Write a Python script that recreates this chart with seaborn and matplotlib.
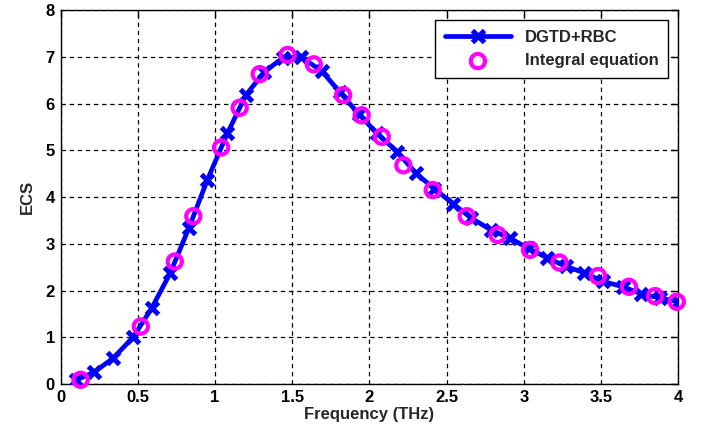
import matplotlib
matplotlib.use("Agg")
import matplotlib.pyplot as plt
import seaborn as sns
import pandas as pd

# DGTD+RBC series
dgtd_freq = [0.10, 0.22, 0.34, 0.47, 0.59, 0.71, 0.83, 0.95, 1.08, 1.20, 1.32,
             1.44, 1.56, 1.69, 1.81, 1.93, 2.05, 2.18, 2.30, 2.42, 2.54, 2.66,
             2.79, 2.91, 3.03, 3.15, 3.27, 3.39, 3.51, 3.64, 3.76, 3.88, 4.00]
dgtd_ecs = [0.08, 0.26, 0.55, 1.00, 1.62, 2.37, 3.33, 4.36, 5.36, 6.18, 6.68,
            6.98, 6.99, 6.70, 6.24, 5.78, 5.36, 4.97, 4.51, 4.18, 3.86, 3.55,
            3.29, 3.12, 2.90, 2.70, 2.52, 2.38, 2.20, 2.08, 1.93, 1.84, 1.76]

# Integral equation series
ie_freq = [0.13, 0.52, 0.74, 0.86, 1.04, 1.16, 1.29, 1.47, 1.64, 1.83, 1.95,
           2.08, 2.22, 2.41, 2.63, 2.83, 3.04, 3.23, 3.48, 3.68, 3.85, 3.99]
ie_ecs = [0.09, 1.23, 2.62, 3.59, 5.06, 5.91, 6.63, 7.04, 6.84, 6.18, 5.75,
          5.29, 4.68, 4.15, 3.59, 3.19, 2.87, 2.60, 2.31, 2.08, 1.88, 1.76]

x_ticks = [0, 0.5, 1, 1.5, 2, 2.5, 3, 3.5, 4]
x_tick_labels = ["0", "0.5", "1", "1.5", "2", "2.5", "3", "3.5", "4"]
y_ticks = [0, 1, 2, 3, 4, 5, 6, 7, 8]

sns.set_style("white")
plt.rcParams['font.family'] = ['Liberation Sans Narrow', 'Liberation Sans', 'DejaVu Sans']
plt.rcParams['font.weight'] = 'bold'

df_d = pd.DataFrame({"f": dgtd_freq, "e": dgtd_ecs})
df_i = pd.DataFrame({"f": ie_freq, "e": ie_ecs})

fig = plt.figure(figsize=(7.06, 4.40), dpi=100)
ax = fig.add_axes([0.0857, 0.1273, 0.8751, 0.8497])

sns.lineplot(data=df_d, x="f", y="e", ax=ax, color="#0000ff", linewidth=3.4,
             marker="x", markersize=9, markeredgewidth=3.6, markeredgecolor="#0000ff",
             label="DGTD+RBC", zorder=3)
sns.scatterplot(data=df_i, x="f", y="e", ax=ax, marker="o", s=105,
                facecolors="none", edgecolor="#ff00ff", linewidth=3.0,
                label="Integral equation", zorder=4, clip_on=False)

ax.set_xlim(0, 4)
ax.set_ylim(0, 8)
ax.set_xticks(x_ticks)
ax.set_xticklabels(x_tick_labels)
ax.set_yticks(y_ticks)
ax.tick_params(direction="in", length=5, width=1, labelsize=12, colors="black",
               top=True, right=True, pad=4)
for lab in ax.get_xticklabels() + ax.get_yticklabels():
    lab.set_fontweight("bold")
ax.grid(True, color="black", linestyle=(0, (3.5, 3)), linewidth=0.9)
for s in ax.spines.values():
    s.set_color("black")
    s.set_linewidth(1.0)
    s.set_visible(True)

ax.set_xlabel("Frequency (THz)", fontsize=12, fontweight="bold", labelpad=2)
ax.set_ylabel("ECS", fontsize=12, fontweight="bold", labelpad=8)

leg = ax.legend(loc="upper right", fontsize=12, frameon=True, fancybox=False,
                edgecolor="black", framealpha=1, borderaxespad=0.6,
                handlelength=4.0, borderpad=0.6, labelspacing=0.5)
leg.get_frame().set_linewidth(1.0)
for t in leg.get_texts():
    t.set_fontweight("bold")

fig.savefig("out.png", dpi=100, facecolor="white")
